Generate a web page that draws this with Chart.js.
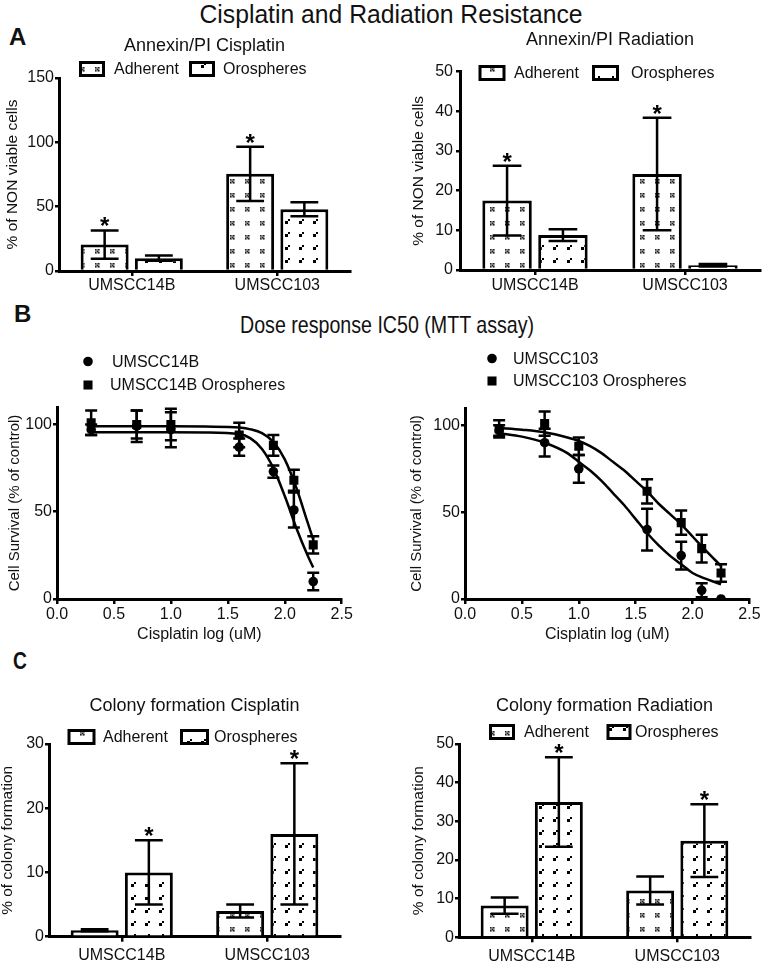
<!DOCTYPE html>
<html>
<head>
<meta charset="utf-8">
<script src="https://cdn.jsdelivr.net/npm/chart.js@4.4.1/dist/chart.umd.min.js"></script>
<style>
html, body { margin: 0; padding: 0; background: #fff; }
#page { position: relative; width: 762px; height: 961px; overflow: hidden; background: #fff; font-family: "Liberation Sans", Arial, Helvetica, sans-serif; color: #111; }
canvas { position: absolute; }
.hd { position: absolute; white-space: nowrap; font-family: "Liberation Sans Narrow", "Liberation Sans", Arial, sans-serif; transform-origin: 50% 50%; }
.letter { position: absolute; font-weight: bold; font-size: 24px; line-height: 24px; font-family: "Liberation Sans", Arial, sans-serif; }
</style>
</head>
<body>
<div id="page">
  <div id="t1" class="hd" style="left:391px; top:1px; font-size:26px; line-height:26px;">Cisplatin and Radiation Resistance</div>
  <div id="t2" class="hd" style="left:387px; top:313px; font-size:24px; line-height:24px;">Dose response IC50 (MTT assay)</div>
  <div class="letter" style="left:9px; top:25px;">A</div>
  <div class="letter" style="left:14px; top:302px;">B</div>
  <div class="letter" id="lc" style="left:13px; top:649px; transform-origin:0 0; transform:scaleX(0.8);">C</div>

  <canvas id="cAL" style="left:0px; top:20px;" width="380" height="280"></canvas>
  <canvas id="cAR" style="left:380px; top:20px;" width="382" height="280"></canvas>
  <canvas id="cBL" style="left:0px; top:330px;" width="380" height="320"></canvas>
  <canvas id="cBR" style="left:380px; top:330px;" width="382" height="320"></canvas>
  <canvas id="cCL" style="left:0px; top:670px;" width="380" height="291"></canvas>
  <canvas id="cCR" style="left:380px; top:670px;" width="382" height="291"></canvas>
</div>

<script>
// ---------------- DATA ----------------
const barCategories = ['UMSCC14B', 'UMSCC103'];
const barSeries = ['Adherent', 'Orospheres'];

// A: Annexin/PI Cisplatin
const annexCisYTicks = [0, 50, 100, 150];
const annexCisAdherent = [20.5, 75.5];
const annexCisAdherentErr = [11, 21];
const annexCisOrospheres = [10, 48];
const annexCisOrospheresErr = [2, 5.5];
const annexCisAdherentStar = [true, true];
const annexCisOrospheresStar = [false, false];

// A: Annexin/PI Radiation
const annexRadYTicks = [0, 10, 20, 30, 40, 50];
const annexRadAdherent = [17.5, 24.2];
const annexRadAdherentErr = [8.8, 14.2];
const annexRadOrospheres = [8.8, 1.2];
const annexRadOrospheresErr = [1.5, 0.3];
const annexRadAdherentStar = [true, true];
const annexRadOrospheresStar = [false, false];

// B: Dose response IC50 (MTT assay)
const doseXTicks = [0, 0.5, 1, 1.5, 2, 2.5];
const doseYTicks = [0, 50, 100];
const doseYMax = 110;
const doseLogConc = [0.3, 0.7, 1.0, 1.6, 1.9, 2.08, 2.25];
const surv14B = [97, 99, 97, 87, 73, 51, 10];
const surv14BErr = [3, 9, 10, 5, 3.5, 10, 5];
const surv14BOro = [101, 100, 100, 94, 88, 68, 31];
const surv14BOroErr = [7, 8, 9, 7, 6, 6, 5];
const fit14BLogConc = [0.3, 0.7, 1.0, 1.3, 1.6, 1.7, 1.8, 1.9, 2.0, 2.1, 2.2, 2.25];
const fit14B = [95.5, 95.5, 95.5, 95.4, 94.5, 92, 86, 75, 59, 41, 25, 18];
const fit14BOro = [99, 99, 99, 98.8, 98.2, 97.2, 95, 90, 80, 64, 44, 34];

const surv103 = [97, 90, 75, 40, 25, 5, 0];
const surv103Err = [3, 8, 8, 12, 8, 4, 0];
const surv103Oro = [98, 101, 88, 62, 44, 29, 15];
const surv103OroErr = [5, 7, 5, 7, 7, 8, 5];
const fit103LogConc = [0.3, 0.5, 0.7, 0.9, 1.0, 1.1, 1.2, 1.3, 1.4, 1.5, 1.6, 1.7, 1.8, 1.9, 2.0, 2.1, 2.25];
const fit103 = [95.5, 93.5, 90, 84, 79, 74, 68, 61, 54, 46, 38, 31, 25, 20, 15, 12, 8.5];
const fit103Oro = [98.5, 97.5, 96, 93, 91, 88, 84, 79, 74, 68, 62, 55, 49, 43, 36, 29, 19];

// C: Colony formation Cisplatin
const colonyCisYTicks = [0, 10, 20, 30];
const colonyCisAdherent = [1.0, 4.0];
const colonyCisAdherentErr = [0.15, 1.0];
const colonyCisOrospheres = [10, 16];
const colonyCisOrospheresErr = [5, 11];
const colonyCisAdherentStar = [false, false];
const colonyCisOrospheresStar = [true, true];

// C: Colony formation Radiation
const colonyRadYTicks = [0, 10, 20, 30, 40, 50];
const colonyRadAdherent = [8.2, 12.1];
const colonyRadAdherentErr = [2.1, 3.6];
const colonyRadOrospheres = [35, 25];
const colonyRadOrospheresErr = [11.6, 9.4];
const colonyRadAdherentStar = [false, false];
const colonyRadOrospheresStar = [true, true];

// ---------------- STYLE HELPERS ----------------
const FONT = '"Liberation Sans", Arial, Helvetica, sans-serif';
Chart.defaults.font.family = FONT;
Chart.defaults.color = '#111';

function makePattern(kind) {
  const c = document.createElement('canvas');
  const g = c.getContext('2d');
  if (kind === 'adh') {
    c.width = 15; c.height = 14;
    g.fillStyle = '#fff'; g.fillRect(0, 0, 15, 14);
    g.fillStyle = '#222';
    const px = [[0,0],[3,0],[1.5,1.5],[0,3],[3,3]];
    px.forEach(p => g.fillRect(5 + p[0], 5 + p[1], 1.6, 1.6));
    g.fillStyle = '#777';
    [[1.5,0],[0,1.5],[3,1.5],[1.5,3]].forEach(p => g.fillRect(5 + p[0], 5 + p[1], 1.4, 1.4));
  } else {
    c.width = 14; c.height = 13;
    g.fillStyle = '#fff'; g.fillRect(0, 0, 14, 13);
    g.fillStyle = '#000';
    g.fillRect(5, 6, 3, 3);
    g.fillRect(8, 4, 2, 2);
  }
  return g.createPattern(c, 'repeat');
}
const adhPattern = makePattern('adh');
const oroPattern = makePattern('oro');

function errPlugin(errs, stars, capFrac, capPx) {
  return {
    id: 'errbars',
    afterDatasetsDraw(chart) {
      const ctx = chart.ctx, ys = chart.scales.y;
      ctx.save();
      ctx.strokeStyle = '#000'; ctx.lineWidth = 2.5; ctx.lineCap = 'butt';
      errs.forEach((e, i) => {
        if (!e) return;
        const meta = chart.getDatasetMeta(i);
        const data = chart.data.datasets[i].data;
        meta.data.forEach((el, j) => {
          const raw = data[j];
          const v = typeof raw === 'number' ? raw : raw.y;
          const er = e[j];
          const yt = ys.getPixelForValue(v + er);
          if (er > 0) {
            const yb = ys.getPixelForValue(Math.max(0, v - er));
            const half = capPx ? capPx / 2 : el.width * capFrac / 2;
            ctx.beginPath();
            ctx.moveTo(el.x, yt); ctx.lineTo(el.x, yb);
            ctx.moveTo(el.x - half, yt); ctx.lineTo(el.x + half, yt);
            ctx.moveTo(el.x - half, yb); ctx.lineTo(el.x + half, yb);
            ctx.stroke();
          }
          if (stars && stars[i] && stars[i][j]) {
            ctx.font = 'bold 24px ' + FONT;
            ctx.textAlign = 'center'; ctx.textBaseline = 'alphabetic'; ctx.fillStyle = '#000';
            const m = ctx.measureText('*');
            ctx.fillText('*', el.x, yt - 4 - m.actualBoundingBoxDescent);
          }
        });
      });
      ctx.restore();
    }
  };
}

function swatchLegend(items, origin, kind) {
  return {
    id: 'swatchLegend',
    afterDraw(chart) {
      const ctx = chart.ctx;
      ctx.save();
      items.forEach((it, i) => {
        const ds = chart.data.datasets[i];
        const x = it.x - origin[0], y = it.y - origin[1];
        if (kind === 'bar') {
          ctx.fillStyle = ds.backgroundColor;
          ctx.fillRect(x, y - 6.5, it.w, 13);
          ctx.lineWidth = 3; ctx.strokeStyle = '#000';
          ctx.strokeRect(x, y - 6.5, it.w, 13);
        } else {
          ctx.fillStyle = '#000';
          Chart.helpers.drawPoint(ctx, { pointStyle: ds.pointStyle, radius: ds.pointRadius, rotation: 0, borderWidth: 0 }, x, y);
        }
        ctx.font = '16px ' + FONT;
        ctx.fillStyle = '#111'; ctx.textAlign = 'left'; ctx.textBaseline = 'middle';
        ctx.fillText(ds.label, it.tx - origin[0], y + 1);
      });
      ctx.restore();
    }
  };
}

function axisGrid(len) {
  return { display: true, drawOnChartArea: false, drawTicks: true, tickLength: len, tickWidth: 2.5, lineWidth: 2.5, color: '#000', tickColor: '#000' };
}

function buildBar(id, origin, d, L) {
  const yt = d.yTicks;
  return new Chart(document.getElementById(id), {
    type: 'bar',
    data: {
      labels: barCategories,
      datasets: [
        { label: barSeries[0], data: d.adh, backgroundColor: adhPattern, borderColor: '#000', borderWidth: 3, borderSkipped: 'start' },
        { label: barSeries[1], data: d.oro, backgroundColor: oroPattern, borderColor: '#000', borderWidth: 3, borderSkipped: 'start' }
      ]
    },
    options: {
      responsive: false, animation: false, events: [],
      layout: { padding: { top: L.padTop, right: L.padRight, left: 0, bottom: 0 } },
      datasets: { bar: { categoryPercentage: 0.745, barPercentage: 0.885 } },
      plugins: {
        legend: { display: false }, tooltip: { enabled: false },
        title: { display: true, text: d.title, fullSize: false, color: '#111', font: { size: 18, weight: 'normal' }, padding: { top: 0, bottom: L.titleGap } }
      },
      scales: {
        x: {
          offset: true,
          grid: Object.assign(axisGrid(5), { offset: false }),
          border: { display: true, color: '#000', width: 3 },
          ticks: { color: '#111', font: { size: 16 }, padding: L.xTickPad, maxRotation: 0 },
          afterFit: s => { s.height = L.xh; }
        },
        y: {
          min: yt[0], max: yt[yt.length - 1],
          ticks: { stepSize: yt[1] - yt[0], color: '#111', font: { size: 16 }, padding: L.yTickPad },
          grid: axisGrid(4),
          border: { display: true, color: '#000', width: 3 },
          title: { display: true, text: d.yTitle, color: '#111', font: { size: 15.5, lineHeight: 1.0 }, padding: { top: L.yTitlePad, bottom: 0 } },
          afterFit: s => { s.width = L.yw; }
        }
      }
    },
    plugins: [errPlugin([d.adhErr, d.oroErr], [d.adhStar, d.oroStar], 0.58, 0), swatchLegend(L.legend, origin, 'bar')]
  });
}

function buildDose(id, origin, d, L) {
  const pts = ys => doseLogConc.map((x, i) => ({ x: x, y: ys[i] }));
  const fit = (xs, ys) => xs.map((x, i) => ({ x: x, y: ys[i] }));
  return new Chart(document.getElementById(id), {
    type: 'scatter',
    data: {
      datasets: [
        { label: d.names[0], data: pts(d.a), pointStyle: 'circle', pointRadius: 4.8, backgroundColor: '#000', borderColor: '#000', borderWidth: 0 },
        { label: d.names[1], data: pts(d.b), pointStyle: 'rect', pointRadius: 6.4, backgroundColor: '#000', borderColor: '#000', borderWidth: 0 },
        { label: d.names[0] + ' fit', data: fit(d.fx, d.fa), showLine: true, pointRadius: 0, borderColor: '#000', borderWidth: 2.5, cubicInterpolationMode: 'monotone', fill: false },
        { label: d.names[1] + ' fit', data: fit(d.fx, d.fb), showLine: true, pointRadius: 0, borderColor: '#000', borderWidth: 2.5, cubicInterpolationMode: 'monotone', fill: false }
      ]
    },
    options: {
      responsive: false, animation: false, events: [],
      layout: { padding: { top: L.padTop, right: L.padRight, left: 0, bottom: 0 } },
      plugins: { legend: { display: false }, tooltip: { enabled: false }, title: { display: false } },
      scales: {
        x: {
          type: 'linear', min: doseXTicks[0], max: doseXTicks[doseXTicks.length - 1],
          ticks: { stepSize: doseXTicks[1] - doseXTicks[0], callback: v => Number(v).toFixed(1), color: '#111', font: { size: 16 }, padding: L.xTickPad, maxRotation: 0, autoSkip: false },
          grid: axisGrid(5),
          border: { display: true, color: '#000', width: 3 },
          title: { display: true, text: 'Cisplatin log (uM)', color: '#111', font: { size: 16 }, padding: { top: 0, bottom: L.xTitlePad } },
          afterFit: s => { s.height = L.xh; }
        },
        y: {
          min: 0, max: doseYMax,
          ticks: { stepSize: doseYTicks[1] - doseYTicks[0], includeBounds: false, color: '#111', font: { size: 16 }, padding: L.yTickPad },
          grid: axisGrid(4),
          border: { display: true, color: '#000', width: 3 },
          title: { display: true, text: 'Cell Survival (% of control)', color: '#111', font: { size: 15, lineHeight: 1.2 }, padding: { top: L.yTitlePad, bottom: 0 } },
          afterFit: s => { s.width = L.yw; }
        }
      }
    },
    plugins: [errPlugin([d.aErr, d.bErr], null, 0, 12), swatchLegend(L.legend, origin, 'point')]
  });
}

// ---------------- CHARTS ----------------
buildBar('cAL', [0, 20], {
  title: 'Annexin/PI Cisplatin', yTitle: '% of NON viable cells', yTicks: annexCisYTicks,
  adh: annexCisAdherent, adhErr: annexCisAdherentErr, oro: annexCisOrospheres, oroErr: annexCisOrospheresErr,
  adhStar: annexCisAdherentStar, oroStar: annexCisOrospheresStar
}, { padTop: 15.2, titleGap: 21.2, padRight: 30, xh: 29, yw: 59, yTitlePad: 5, xTickPad: 0, yTickPad: 1,
     legend: [{ x: 80.5, y: 69, w: 23, tx: 114 }, { x: 190.5, y: 69, w: 23, tx: 223 }] });

buildBar('cAR', [380, 20], {
  title: 'Annexin/PI Radiation', yTitle: '% of NON viable cells', yTicks: annexRadYTicks,
  adh: annexRadAdherent, adhErr: annexRadAdherentErr, oro: annexRadOrospheres, oroErr: annexRadOrospheresErr,
  adhStar: annexRadAdherentStar, oroStar: annexRadOrospheresStar
}, { padTop: 9.2, titleGap: 20.9, padRight: 2, xh: 30, yw: 80, yTitlePad: 31, xTickPad: 1, yTickPad: 3,
     legend: [{ x: 480, y: 73, w: 24, tx: 514 }, { x: 593.5, y: 73, w: 24, tx: 631 }] });

buildDose('cBL', [0, 330], {
  names: ['UMSCC14B', 'UMSCC14B Orospheres'],
  a: surv14B, aErr: surv14BErr, b: surv14BOro, bErr: surv14BOroErr,
  fx: fit14BLogConc, fa: fit14B, fb: fit14BOro
}, { padTop: 77, padRight: 38.3, xh: 51, yw: 57, yTitlePad: 5.5, xTickPad: 1.4, xTitlePad: 5.4, yTickPad: 1,
     legend: [{ x: 88, y: 361.5, tx: 112 }, { x: 88, y: 385, tx: 110 }] });

buildDose('cBR', [380, 330], {
  names: ['UMSCC103', 'UMSCC103 Orospheres'],
  a: surv103, aErr: surv103Err, b: surv103Oro, bErr: surv103OroErr,
  fx: fit103LogConc, fa: fit103, fb: fit103Oro
}, { padTop: 78, padRight: 8.7, xh: 51, yw: 85, yTitlePad: 28, xTickPad: 1.4, xTitlePad: 5.4, yTickPad: 1,
     legend: [{ x: 492, y: 358.5, tx: 513 }, { x: 492, y: 381, tx: 513 }] });

buildBar('cCL', [0, 670], {
  title: 'Colony formation Cisplatin', yTitle: '% of colony formation', yTicks: colonyCisYTicks,
  adh: colonyCisAdherent, adhErr: colonyCisAdherentErr, oro: colonyCisOrospheres, oroErr: colonyCisOrospheresErr,
  adhStar: colonyCisAdherentStar, oroStar: colonyCisOrospheresStar
}, { padTop: 25.2, titleGap: 27.2, padRight: 40, xh: 24.3, yw: 49, yTitlePad: 0, xTickPad: 4.7, yTickPad: 1,
     legend: [{ x: 69, y: 737, w: 25, tx: 103 }, { x: 181.5, y: 737, w: 26, tx: 214 }] });

buildBar('cCR', [380, 670], {
  title: 'Colony formation Radiation', yTitle: '% of colony formation', yTicks: colonyRadYTicks,
  adh: colonyRadAdherent, adhErr: colonyRadAdherentErr, oro: colonyRadOrospheres, oroErr: colonyRadOrospheresErr,
  adhStar: colonyRadAdherentStar, oroStar: colonyRadOrospheresStar
}, { padTop: 25.2, titleGap: 27.2, padRight: 12, xh: 23.7, yw: 79, yTitlePad: 31, xTickPad: 4.5, yTickPad: 1,
     legend: [{ x: 490.5, y: 732, w: 23, tx: 524 }, { x: 608, y: 732, w: 22, tx: 635 }] });

// fit heading widths to the reference
function fitHeading(id, target) {
  const el = document.getElementById(id);
  const w = el.getBoundingClientRect().width;
  el.style.transform = 'translateX(-50%) scaleX(' + (target / w) + ')';
}
fitHeading('t1', 383);
fitHeading('t2', 294);
</script>
</body>
</html>
